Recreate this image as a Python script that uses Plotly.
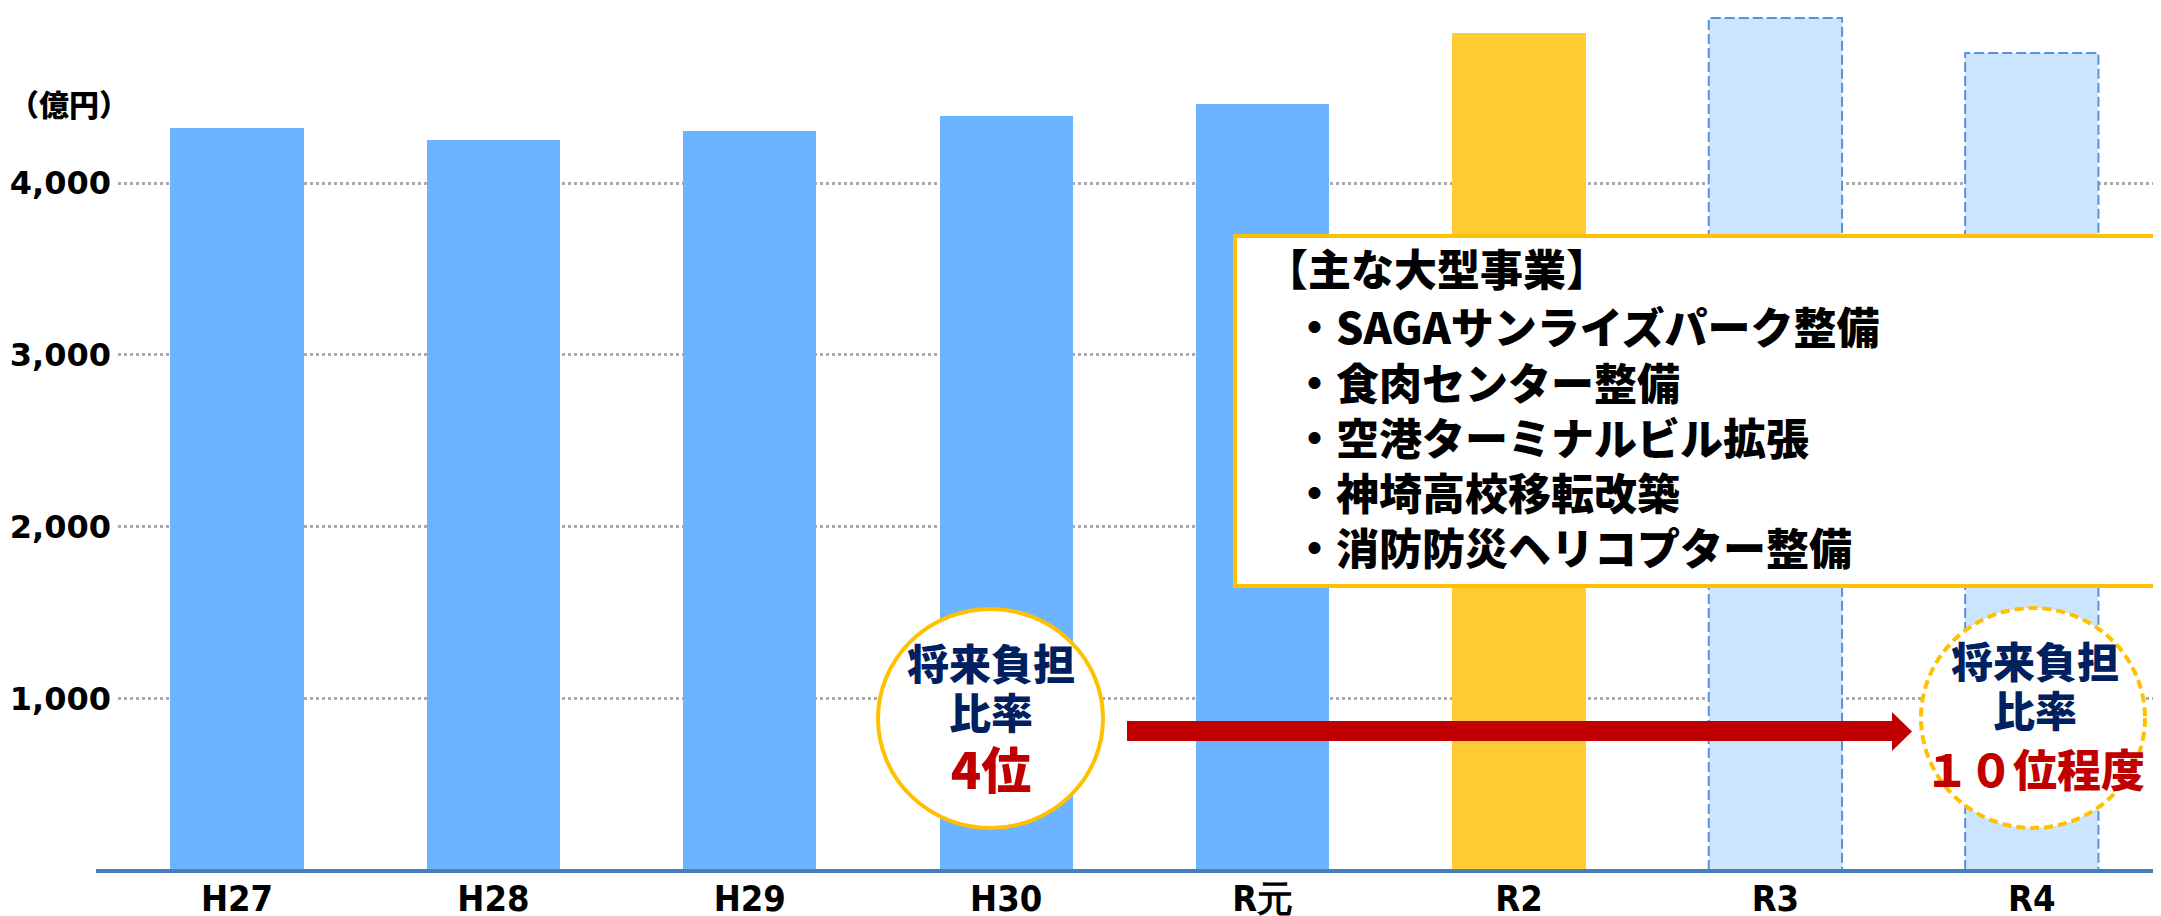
import plotly.graph_objects as go

# ---------------- data ----------------
categories = ["H27", "H28", "H29", "H30", "R元", "R2", "R3", "R4"]
values = [4321, 4252, 4304, 4391, 4461, 4875, 4962, 4758]
period = ["actual", "actual", "actual", "actual", "actual", "current", "forecast", "forecast"]
y_tickvals = [1000, 2000, 3000, 4000]
y_ticktext = ["1,000", "2,000", "3,000", "4,000"]
unit_label = "（億円）"
box_title = "【主な大型事業】"
box_items = ["・SAGAサンライズパーク整備", "・食肉センター整備", "・空港ターミナルビル拡張",
             "・神埼高校移転改築", "・消防防災ヘリコプター整備"]
left_circle_lines = ["将来負担", "比率", "4位"]
right_circle_lines = ["将来負担", "比率", "１０位程度"]

# ---------------- style ----------------
W, H = 2161, 916
OFF = 8                       # page body margin shifts the figure by 8px
# plot area in screenshot pixels
SL, ST, SB, SR = 118, OFF, 870, W + OFF
SPW, SPH = SR - SL, SB - ST
period_color = {"actual": "#6CB4FF", "current": "#FFCC33", "forecast": "#CCE5FF"}
BAR_W = 0.52
CJK = "Noto Sans CJK JP"
NAVY, RED, GOLD = "#002060", "#C00000", "#FFC000"

def px(x):
    return (x - SL) / SPW

def py(y):
    return (SB - y) / SPH

xs = list(range(len(categories)))
SLOT = 256.4
x_lo = -(237 - SL) / SLOT
x_hi = x_lo + SPW / SLOT

fig = go.Figure()
fig.add_trace(go.Bar(
    x=xs, y=values, width=BAR_W,
    marker=dict(color=[period_color[p] for p in period], line=dict(width=0)),
    hoverinfo="skip",
))

# dashed outline for forecast bars
ox, oy = [], []
for i, (v, p) in enumerate(zip(values, period)):
    if p == "forecast":
        ox += [i - BAR_W / 2, i - BAR_W / 2, i + BAR_W / 2, i + BAR_W / 2, None]
        oy += [0, v, v, 0, None]
fig.add_trace(go.Scatter(x=ox, y=oy, mode="lines",
                         line=dict(color="#5A92DA", width=2, dash="10px,4px"),
                         hoverinfo="skip"))

shapes = []
shapes.append(dict(type="line", xref="paper", yref="paper", x0=px(96), x1=px(2170),
                   y0=py(871), y1=py(871), line=dict(color="#4A7EBB", width=4), layer="above"))
shapes.append(dict(type="rect", xref="paper", yref="paper", x0=px(1235), x1=px(2157),
                   y0=py(236), y1=py(586), fillcolor="white", line=dict(color=GOLD, width=4),
                   layer="above"))
shapes.append(dict(type="circle", xref="paper", yref="paper", x0=px(878), x1=px(1103),
                   y0=py(609), y1=py(828), fillcolor="white", line=dict(color=GOLD, width=4),
                   layer="above"))
shapes.append(dict(type="circle", xref="paper", yref="paper", x0=px(1921), x1=px(2145),
                   y0=py(608), y1=py(828), fillcolor="white",
                   line=dict(color=GOLD, width=4, dash="9px,5px"), layer="above"))
shapes.append(dict(type="rect", xref="paper", yref="paper", x0=px(1127), x1=px(1893),
                   y0=py(721), y1=py(741), fillcolor=RED, line=dict(width=0), layer="above"))
shapes.append(dict(type="path", xref="paper", yref="paper",
                   path=f"M {px(1892)},{py(712)} L {px(1912)},{py(731.5)} L {px(1892)},{py(751)} Z",
                   fillcolor=RED, line=dict(width=0), layer="above"))

ann = []
ann.append(dict(text=unit_label, x=px(69), y=py(103), xref="paper", yref="paper",
                showarrow=False, xanchor="center", yanchor="middle",
                font=dict(family=CJK, size=30, color="black", weight=900)))
ann.append(dict(text=box_title, x=px(1263), y=py(267), xref="paper", yref="paper",
                showarrow=False, xanchor="left", yanchor="middle",
                font=dict(family=CJK, size=43, color="black", weight=900)))
item_y = [325, 380.5, 436, 491.5, 546]
for t, yy in zip(box_items, item_y):
    ann.append(dict(text=t, x=px(1291), y=py(yy), xref="paper", yref="paper",
                    showarrow=False, xanchor="left", yanchor="middle",
                    font=dict(family=CJK, size=43, color="black", weight=900)))

# circle captions: one text block each; fine line pitch + blank lines set the spacing
STEP = 12.125
def circle_text(lines, cx, cy, last_size):
    navy = f"<span style='font-size:42px;color:{NAVY}'>{{}}</span>"
    red = f"<span style='font-size:{last_size}px;color:{RED}'>{{}}</span>"
    txt = navy.format(lines[0]) + "<br>" * 4 + navy.format(lines[1]) + "<br>" * 5 + red.format(lines[2])
    ann.append(dict(text=txt, x=px(cx), y=py(cy), xref="paper", yref="paper",
                    showarrow=False, xanchor="center", yanchor="middle", align="center",
                    font=dict(family=CJK, size=STEP / 1.3, color=NAVY, weight=900)))

circle_text(left_circle_lines, 991, 717, 50)
circle_text(right_circle_lines, 2035, 714.5, 44)

fig.update_layout(
    width=W, height=H,
    margin=dict(l=SL - OFF, r=0, t=0, b=H - (SB - OFF), autoexpand=False),
    paper_bgcolor="white", plot_bgcolor="white", showlegend=False,
    shapes=shapes, annotations=ann, bargap=0,
    xaxis=dict(range=[x_lo, x_hi], tickmode="array", tickvals=xs, ticktext=categories,
               showgrid=False, zeroline=False, showline=False, automargin=False,
               ticks="", ticklabelstandoff=4,
               tickfont=dict(family="DejaVu Sans Condensed", size=36, color="black", weight="bold")),
    yaxis=dict(range=[0, SPH / 0.1717], tickmode="array", tickvals=y_tickvals, ticktext=y_ticktext,
               showgrid=True, gridcolor="#ABABAB", gridwidth=3, griddash="3px,3px",
               zeroline=False, showline=False, ticks="", automargin=False,
               ticklabelstandoff=6,
               tickfont=dict(family="DejaVu Sans", size=32, color="black", weight="bold")),
)

fig.write_html("out.html")
